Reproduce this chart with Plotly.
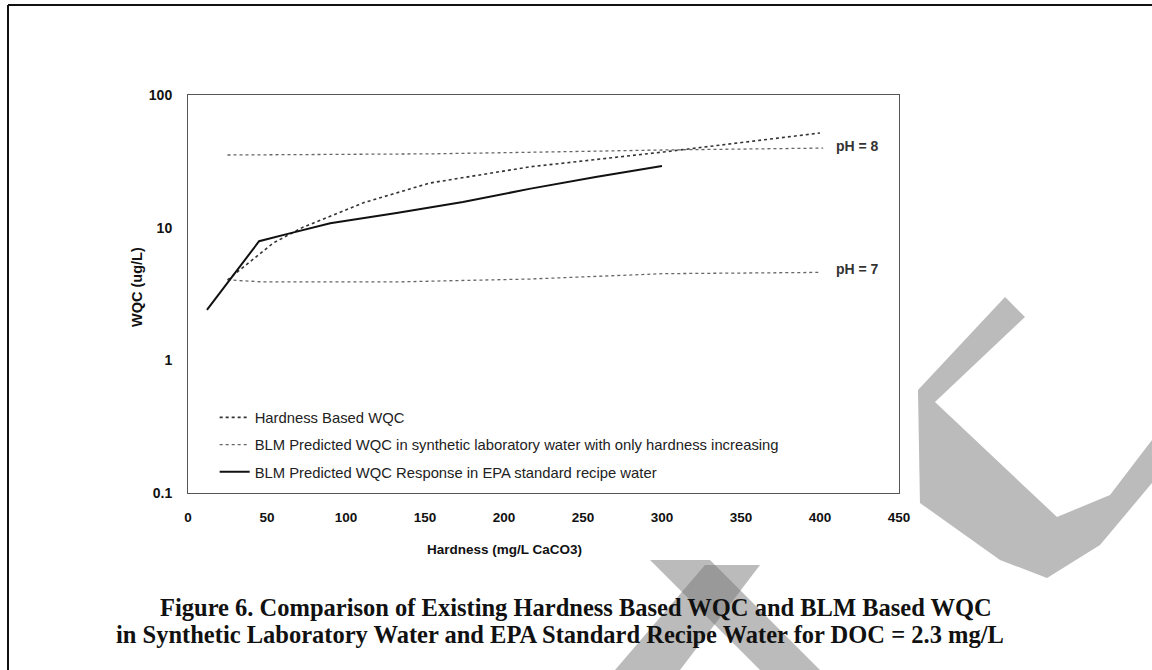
import plotly.graph_objects as go

# ---------------- data ----------------
hard_epa = [12, 45, 65, 90, 132, 174, 216, 258, 300]
wqc_epa = [2.4, 7.9, 9.1, 10.8, 12.9, 15.6, 19.6, 24.1, 29.2]

hard_wqc = [25, 54, 73, 111, 153, 216, 301, 400]
wqc_hard = [4.04, 7.67, 10.1, 15.4, 21.7, 28.7, 37.2, 51.7]

hard_ph8 = [25, 153, 216, 300, 402]
wqc_ph8 = [35.3, 36.0, 37.0, 38.5, 39.8]

hard_ph7 = [25, 48, 132, 216, 301, 400]
wqc_ph7 = [4.04, 3.9, 3.9, 4.1, 4.5, 4.6]

x_ticks = [0, 50, 100, 150, 200, 250, 300, 350, 400, 450]
y_ticks = [0.1, 1, 10, 100]
y_ticktext = ["0.1", "1", "10", "100"]

names = [
    "Hardness Based WQC",
    "BLM Predicted WQC in synthetic laboratory water with only hardness increasing",
    "BLM Predicted WQC Response in EPA standard recipe water",
]

# ---------------- layout geometry ----------------
W, H = 1152, 670
L, R, T, B = 188, 253, 95, 177
PW, PH = W - L - R, H - T - B


def px(xp):
    return (xp - L) / PW


def py(yp):
    return (H - B - yp) / PH


fig = go.Figure()

fig.add_trace(go.Scatter(
    x=hard_wqc, y=wqc_hard, mode="lines", name=names[0],
    line=dict(color="#333333", width=1.6, dash="dot"),
    legendgroup="a"))
fig.add_trace(go.Scatter(
    x=hard_ph8, y=wqc_ph8, mode="lines", name=names[1],
    line=dict(color="#666666", width=1.3, dash="3px,3px"),
    legendgroup="b"))
fig.add_trace(go.Scatter(
    x=hard_ph7, y=wqc_ph7, mode="lines", name=names[1],
    line=dict(color="#666666", width=1.3, dash="3px,3px"),
    legendgroup="b", showlegend=False))
fig.add_trace(go.Scatter(
    x=hard_epa, y=wqc_epa, mode="lines", name=names[2],
    line=dict(color="#111111", width=2),
    legendgroup="c"))

# pH labels
ph_font = dict(family="Liberation Sans", size=14, color="#333333", weight="bold")
fig.add_annotation(x=424, y=1.616, xref="x", yref="y", text="pH = 8",
                   xanchor="center", yanchor="middle", showarrow=False, font=ph_font)
fig.add_annotation(x=424, y=0.69, xref="x", yref="y", text="pH = 7",
                   xanchor="center", yanchor="middle", showarrow=False, font=ph_font)

# axis titles
fig.add_annotation(x=200, y=py(549), xref="x", yref="paper", text="<b>Hardness (mg/L CaCO3)</b>",
                   xanchor="center", yanchor="middle", showarrow=False,
                   font=dict(family="Liberation Sans", size=13.5, color="#111111"))
fig.add_annotation(x=px(137), y=py(287), xref="paper", yref="paper", text="<b>WQC (ug/L)</b>",
                   xanchor="center", yanchor="middle", textangle=-90, showarrow=False,
                   font=dict(family="Liberation Sans", size=14.5, color="#111111"))

# caption
cap_font = dict(family="Liberation Serif", size=24.5, color="#111111")
fig.add_annotation(x=px(576), y=py(607), xref="paper", yref="paper",
                   text="<b>Figure 6. Comparison of Existing Hardness Based WQC and BLM Based WQC</b>",
                   xanchor="center", yanchor="middle", showarrow=False, font=cap_font)
fig.add_annotation(x=px(560), y=py(634), xref="paper", yref="paper",
                   text="<b>in Synthetic Laboratory Water and EPA Standard Recipe Water for DOC = 2.3 mg/L</b>",
                   xanchor="center", yanchor="middle", showarrow=False, font=cap_font)


def poly(points):
    s = "M " + " L ".join(f"{px(a):.4f},{py(b):.4f}" for a, b in points) + " Z"
    return s


grey = "rgba(120,120,120,0.5)"
shapes = [
    # page frame
    dict(type="line", xref="paper", yref="paper", x0=px(8), y0=py(5), x1=px(1152), y1=py(5),
         line=dict(color="#111111", width=2)),
    dict(type="line", xref="paper", yref="paper", x0=px(8), y0=py(5), x1=px(8), y1=py(670),
         line=dict(color="#111111", width=2)),
    # scan artifacts
    dict(type="path", xref="paper", yref="paper", layer="below", line=dict(width=0), fillcolor=grey,
         path=poly([(650, 560), (710, 560), (820, 670), (760, 670)])),
    dict(type="path", xref="paper", yref="paper", layer="below", line=dict(width=0), fillcolor=grey,
         path=poly([(705, 565), (760, 565), (680, 670), (615, 670)])),
    dict(type="path", xref="paper", yref="paper", layer="below", line=dict(width=0), fillcolor=grey,
         path=poly([(1005, 297), (918, 390), (920, 503), (1000, 560), (1047, 578), (1100, 545),
                    (1152, 483), (1152, 440), (1110, 495), (1057, 517), (935, 402), (1025, 317)])),
]
fig.update_layout(shapes=shapes)

fig.update_layout(
    width=W, height=H,
    margin=dict(l=L, r=R, t=T, b=B),
    paper_bgcolor="white", plot_bgcolor="white",
    showlegend=True,
    legend=dict(x=0.0375, y=0.012, xanchor="left", yanchor="bottom",
                bgcolor="rgba(0,0,0,0)", traceorder="grouped", tracegroupgap=5,
                font=dict(family="Liberation Sans", size=14.8, color="#222222")),
    xaxis=dict(range=[0, 450], tickvals=x_ticks, showgrid=False, zeroline=False,
               showline=True, mirror=True, linecolor="#555555", linewidth=1,
               ticks="", ticklabelstandoff=12,
               tickfont=dict(family="Liberation Sans", size=13.5, color="#111111", weight="bold")),
    yaxis=dict(type="log", range=[-1, 2], tickvals=y_ticks, ticktext=y_ticktext,
               showgrid=False, zeroline=False,
               showline=True, mirror=True, linecolor="#555555", linewidth=1,
               ticks="", ticklabelstandoff=12,
               tickfont=dict(family="Liberation Sans", size=14, color="#111111", weight="bold")),
)

fig.write_html("out.html", config={"displayModeBar": False},
               post_script="document.body.style.margin='0';document.body.style.overflow='hidden';")
